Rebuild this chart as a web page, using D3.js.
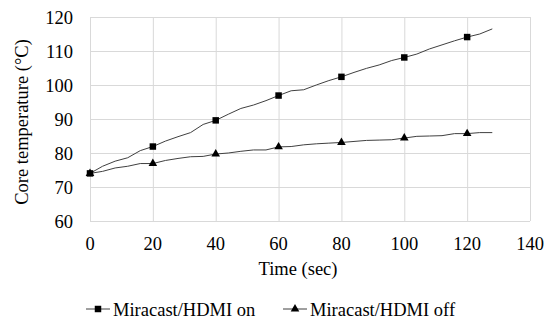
<!DOCTYPE html>
<html>
<head>
<meta charset="utf-8">
<script src="https://cdn.jsdelivr.net/npm/d3@7"></script>
<style>
  body { margin: 0; background: white; }
  text { font-family: "Liberation Serif", "Times New Roman", serif; fill: #000; }
</style>
</head>
<body>
<div id="viz-container"></div>
<script>
let vizWidth = 544;
let vizHeight = 323;

let times = [0, 4, 8, 12, 16, 20, 24, 28, 32, 36, 40, 44, 48, 52, 56, 60, 64,
             68, 72, 76, 80, 84, 88, 92, 96, 100, 104, 108, 112, 116, 120, 124, 128];
let hdmiOn = [74.0, 76.1, 77.6, 78.6, 80.7, 81.9, 83.5, 84.8, 86.0, 88.4, 89.6,
              91.4, 93.1, 94.1, 95.4, 96.9, 98.3, 98.6, 100.0, 101.3, 102.4, 103.7,
              104.9, 105.9, 107.2, 108.1, 109.1, 110.6, 111.8, 113.0, 114.1, 115.0, 116.5];
let hdmiOff = [74.0, 74.6, 75.6, 76.1, 76.9, 76.9, 77.8, 78.4, 78.9, 79.0, 79.7,
               80.0, 80.5, 80.9, 80.9, 81.8, 81.9, 82.4, 82.7, 82.9, 83.1, 83.4,
               83.7, 83.8, 83.9, 84.4, 84.9, 85.0, 85.1, 85.7, 85.7, 86.0, 86.0];
let markerTimes = [0, 20, 40, 60, 80, 100, 120];
let xTicks = [0, 20, 40, 60, 80, 100, 120, 140];
let yTicks = [60, 70, 80, 90, 100, 110, 120];
let seriesNames = ["Miracast/HDMI on", "Miracast/HDMI off"];

let viz = d3.select("#viz-container")
    .append("svg")
        .attr("width", vizWidth)
        .attr("height", vizHeight)
        .style("background-color", "white");

let plotLeft = 90, plotRight = 530, plotTop = 17, plotBottom = 221;
let fontSize = "18.5px";

let xScale = d3.scaleLinear().domain([0, 140]).range([plotLeft, plotRight]);
let yScale = d3.scaleLinear().domain([60, 120]).range([plotBottom, plotTop]);

// gridlines
viz.append("g")
    .attr("transform", "translate(0," + plotBottom + ")")
    .call(d3.axisBottom(xScale).tickValues(xTicks).tickSize(-(plotBottom - plotTop)).tickFormat(""))
    .call(g => g.select(".domain").remove())
    .selectAll("line").attr("stroke", "#d9d9d9");

viz.append("g")
    .attr("transform", "translate(" + plotLeft + ",0)")
    .call(d3.axisLeft(yScale).tickValues(yTicks).tickSize(-(plotRight - plotLeft)).tickFormat(""))
    .call(g => g.select(".domain").remove())
    .selectAll("line").attr("stroke", "#d9d9d9");

// tick labels
viz.selectAll(".xlab").data(xTicks).enter().append("text")
    .attr("x", d => xScale(d))
    .attr("y", 250)
    .attr("text-anchor", "middle")
    .style("font-size", fontSize)
    .text(d => d);

viz.selectAll(".ylab").data(yTicks).enter().append("text")
    .attr("x", 73)
    .attr("y", d => yScale(d) + 6.5)
    .attr("text-anchor", "end")
    .style("font-size", fontSize)
    .text(d => d);

// axis titles
viz.append("text")
    .attr("x", 298)
    .attr("y", 275)
    .attr("text-anchor", "middle")
    .style("font-size", fontSize)
    .text("Time (sec)");

viz.append("text")
    .attr("transform", "translate(28,122) rotate(-90)")
    .attr("text-anchor", "middle")
    .style("font-size", fontSize)
    .text("Core temperature (°C)");

// lines
let line = d3.line()
    .x((d, i) => xScale(times[i]))
    .y(d => yScale(d));

[hdmiOn, hdmiOff].forEach(function(s){
    viz.append("path")
        .datum(s)
        .attr("d", line)
        .attr("fill", "none")
        .attr("stroke", "#404040")
        .attr("stroke-width", 1);
});

let square = d3.symbol().type(d3.symbolSquare).size(42);
let triangle = d3.symbol().type(d3.symbolTriangle).size(32);

viz.selectAll(".sq").data(markerTimes).enter().append("path")
    .attr("d", square)
    .attr("transform", d => "translate(" + xScale(d) + "," + yScale(hdmiOn[times.indexOf(d)]) + ")")
    .attr("fill", "#000");

viz.selectAll(".tri").data(markerTimes).enter().append("path")
    .attr("d", triangle)
    .attr("transform", d => "translate(" + xScale(d) + "," + yScale(hdmiOff[times.indexOf(d)]) + ")")
    .attr("fill", "#000");

// legend
let legendX = [86, 283];
let legend = viz.selectAll(".legend").data(seriesNames).enter().append("g")
    .attr("transform", (d, i) => "translate(" + legendX[i] + ",309)");

legend.append("line")
    .attr("x1", 0).attr("x2", 24)
    .attr("stroke", "#404040");

legend.append("path")
    .attr("d", (d, i) => i == 0 ? square() : triangle())
    .attr("transform", "translate(12,0)")
    .attr("fill", "#000");

legend.append("text")
    .attr("x", 27)
    .attr("y", 6.5)
    .style("font-size", fontSize)
    .text(d => d);
</script>
</body>
</html>
